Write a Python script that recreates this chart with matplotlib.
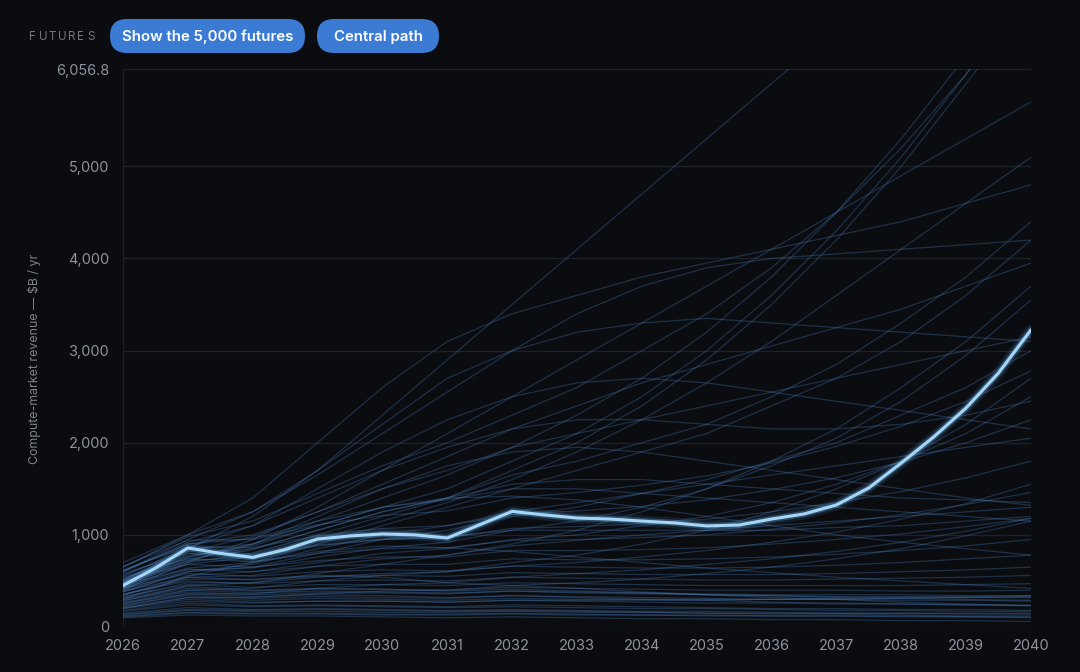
import matplotlib.pyplot as plt
from matplotlib.patches import FancyBboxPatch

plt.rcParams['font.family'] = ['Inter', 'DejaVu Sans']

# jaren pe axa x
years = list(range(2026, 2041))

# traseul central, citit la fiecare jumatate de an
central_years = [2026, 2026.5, 2027, 2027.5, 2028, 2028.5, 2029, 2029.5, 2030, 2030.5,
                 2031, 2031.5, 2032, 2032.5, 2033, 2033.5, 2034, 2034.5, 2035, 2035.5,
                 2036, 2036.5, 2037, 2037.5, 2038, 2038.5, 2039, 2039.5, 2040]
central = [450, 640, 858, 800, 755, 840, 955, 988, 1010, 1000,
           966, 1110, 1255, 1216, 1183, 1172, 1150, 1130, 1097, 1107,
           1172, 1227, 1325, 1510, 1780, 2063, 2378, 2758, 3225]

# o parte din "futures" (valori pe ani, 2026..2040)
futures = [
    [120, 160, 150, 150, 140, 140, 150, 140, 130, 130, 120, 120, 110, 110, 100],
    [150, 210, 190, 200, 190, 180, 190, 180, 170, 170, 160, 150, 150, 140, 140],
    [180, 260, 230, 240, 230, 220, 240, 230, 220, 210, 200, 200, 190, 190, 180],
    [210, 300, 270, 280, 280, 270, 290, 280, 270, 260, 260, 250, 250, 240, 240],
    [240, 340, 310, 330, 320, 310, 340, 330, 320, 310, 300, 300, 290, 290, 280],
    [270, 380, 350, 370, 370, 360, 390, 380, 370, 360, 350, 350, 350, 340, 340],
    [300, 420, 390, 410, 410, 400, 430, 420, 410, 400, 400, 400, 390, 390, 400],
    [330, 460, 430, 460, 460, 450, 480, 470, 460, 450, 450, 450, 450, 460, 470],
    [360, 500, 470, 500, 510, 500, 540, 530, 520, 510, 510, 520, 530, 540, 560],
    [390, 540, 510, 550, 560, 550, 590, 580, 570, 570, 570, 580, 600, 620, 650],
    [420, 580, 550, 600, 620, 610, 660, 650, 640, 640, 650, 670, 700, 740, 780],
    [460, 630, 600, 660, 680, 680, 740, 730, 730, 740, 760, 790, 830, 880, 950],
    [500, 680, 650, 720, 760, 760, 830, 830, 840, 860, 900, 950, 1010, 1090, 1180],
    [540, 740, 710, 800, 850, 860, 940, 950, 970, 1000, 1060, 1130, 1220, 1330, 1460],
    [580, 800, 780, 890, 950, 970, 1070, 1090, 1120, 1170, 1250, 1350, 1470, 1620, 1800],
    [620, 870, 860, 990, 1070, 1100, 1220, 1260, 1310, 1380, 1490, 1620, 1790, 2000, 2250],
    [660, 940, 950, 1110, 1210, 1260, 1400, 1460, 1540, 1640, 1780, 1960, 2180, 2450, 2780],
    [350, 520, 520, 560, 540, 480, 450, 420, 380, 350, 320, 300, 270, 250, 230],
    [420, 640, 700, 820, 880, 860, 820, 760, 700, 640, 590, 540, 500, 460, 420],
    [500, 760, 880, 1100, 1300, 1400, 1420, 1380, 1300, 1200, 1100, 1000, 920, 850, 780],
    [450, 720, 900, 1200, 1500, 1750, 1900, 1950, 1900, 1800, 1700, 1600, 1500, 1400, 1320],
    [550, 860, 1100, 1500, 1900, 2250, 2500, 2650, 2700, 2650, 2550, 2450, 2350, 2250, 2150],
    [600, 950, 1250, 1700, 2200, 2700, 3000, 3200, 3300, 3350, 3300, 3250, 3200, 3150, 3100],
    [650, 1000, 1400, 2000, 2600, 3100, 3400, 3600, 3800, 3950, 4100, 4250, 4400, 4600, 4800],
    [500, 850, 1200, 1700, 2300, 2900, 3500, 4100, 4700, 5300, 5900, 6500, 7000, 7500, 8000],
    [400, 700, 950, 1300, 1700, 2100, 2500, 2900, 3300, 3700, 4100, 4500, 4900, 5300, 5700],
    [300, 550, 700, 900, 1100, 1300, 1500, 1700, 1900, 2100, 2400, 2700, 3100, 3600, 4200],
    [450, 700, 800, 1000, 1200, 1400, 1700, 2000, 2400, 2900, 3500, 4200, 5000, 5900, 6800],
    [380, 600, 650, 800, 950, 1050, 1200, 1300, 1450, 1600, 1800, 2000, 2300, 2600, 3000],
    [520, 780, 850, 1050, 1250, 1400, 1650, 1800, 2000, 2200, 2500, 2850, 3300, 3800, 4400],
    [350, 560, 600, 700, 800, 850, 950, 1000, 1100, 1200, 1350, 1550, 1800, 2100, 2500],
    [600, 900, 1000, 1250, 1500, 1700, 1950, 2100, 2250, 2400, 2550, 2700, 2850, 3000, 3150],
    [480, 720, 760, 880, 950, 980, 1050, 1050, 1050, 1050, 1050, 1080, 1100, 1150, 1200],
    [320, 480, 480, 540, 580, 600, 660, 700, 760, 830, 920, 1030, 1170, 1340, 1550],
    [560, 840, 900, 1100, 1300, 1500, 1800, 2100, 2500, 3000, 3600, 4300, 5100, 6000, 7000],
    [400, 620, 640, 760, 860, 920, 1050, 1150, 1300, 1500, 1750, 2050, 2450, 2950, 3550],
    [250, 400, 420, 500, 560, 600, 700, 780, 900, 1050, 1250, 1500, 1800, 2200, 2700],
    [200, 320, 320, 360, 390, 400, 450, 480, 520, 580, 650, 740, 850, 990, 1150],
    [470, 740, 840, 1050, 1250, 1400, 1550, 1600, 1600, 1550, 1500, 1450, 1400, 1380, 1350],
    [600, 920, 1100, 1400, 1700, 1950, 2150, 2250, 2250, 2200, 2150, 2150, 2200, 2300, 2450],
    [430, 680, 760, 950, 1150, 1350, 1600, 1900, 2250, 2650, 3100, 3600, 4100, 4600, 5100],
    [280, 450, 480, 580, 680, 780, 900, 1050, 1250, 1500, 1800, 2150, 2600, 3100, 3700],
    [520, 820, 980, 1250, 1550, 1850, 2150, 2400, 2650, 2850, 3050, 3250, 3450, 3700, 3950],
    [380, 600, 680, 850, 1000, 1100, 1250, 1350, 1450, 1550, 1650, 1750, 1850, 1950, 2050],
    [650, 980, 1150, 1450, 1750, 2000, 2300, 2600, 3000, 3400, 3900, 4500, 5200, 6000, 6900],
    [340, 540, 560, 660, 740, 780, 880, 940, 1000, 1050, 1100, 1150, 1200, 1250, 1300],
    [230, 360, 360, 420, 460, 480, 540, 580, 620, 680, 740, 820, 920, 1040, 1180],
    [610, 900, 960, 1150, 1300, 1380, 1500, 1500, 1450, 1400, 1350, 1300, 1250, 1200, 1150],
    [700, 1000, 1250, 1650, 2100, 2550, 3000, 3400, 3700, 3900, 4000, 4050, 4100, 4150, 4200],
    [480, 760, 900, 1150, 1400, 1650, 1950, 2300, 2700, 3200, 3800, 4500, 5300, 6200, 7200],
    [100, 130, 120, 120, 110, 100, 110, 100, 90, 90, 80, 80, 70, 70, 60],
    [140, 190, 180, 190, 180, 170, 180, 170, 160, 150, 140, 140, 130, 120, 120],
    [260, 360, 330, 350, 340, 320, 340, 320, 300, 290, 270, 260, 250, 240, 230],
    [310, 440, 400, 420, 410, 390, 410, 390, 370, 350, 340, 320, 310, 300, 290],
    [200, 280, 260, 280, 280, 270, 290, 290, 290, 290, 300, 300, 310, 320, 330],
    [170, 240, 220, 230, 220, 210, 220, 210, 200, 200, 190, 180, 180, 170, 170],
    [290, 400, 370, 390, 380, 370, 390, 370, 360, 350, 340, 330, 330, 320, 320],
    [130, 180, 170, 170, 160, 160, 170, 160, 160, 150, 150, 150, 150, 150, 150],
    [220, 320, 290, 310, 300, 290, 310, 300, 300, 300, 300, 310, 320, 330, 340],
    [110, 150, 140, 140, 130, 130, 140, 130, 130, 120, 120, 120, 120, 110, 110],
]

y_ticks = [0, 1000, 2000, 3000, 4000, 5000, 6056.8]
y_labels = ['0', '1,000', '2,000', '3,000', '4,000', '5,000', '6,056.8']

bg = '#0a0c10'
fig = plt.figure(figsize=(10.8, 6.72), dpi=100, facecolor=bg)
ax = fig.add_axes([123 / 1080, 1 - 627 / 672, 908 / 1080, 558 / 672])
ax.set_facecolor(bg)

# liniile de grila
for t in y_ticks:
    ax.axhline(t, color='#1c2027', lw=1, zorder=0)
ax.axvline(2026, color='#1c2027', lw=1, zorder=0)

for f in futures:
    ax.plot(years, f, color='#4f86c6', alpha=0.3, lw=0.9, zorder=1)

# traseul central cu glow
ax.plot(central_years, central, color='#5aa7e8', lw=8, alpha=0.12,
        solid_capstyle='round', zorder=2)
ax.plot(central_years, central, color='#6fb8f0', lw=4.5, alpha=0.3,
        solid_capstyle='round', zorder=3)
ax.plot(central_years, central, color='#a6d6f6', lw=2.2,
        solid_capstyle='round', zorder=4)

ax.set_xlim(2026, 2040)
ax.set_ylim(0, 6056.8)
ax.set_xticks(years)
ax.set_xticklabels([str(y) for y in years])
ax.set_yticks(y_ticks)
ax.set_yticklabels(y_labels)
ax.tick_params(length=0, colors='#8d929b', labelsize=10.5)
ax.tick_params(axis='x', pad=9)
ax.tick_params(axis='y', pad=10)
for s in ax.spines.values():
    s.set_visible(False)
ax.set_ylabel(r'Compute-market revenue — \$B / yr', color='#7d828b', fontsize=8.9)
ax.yaxis.set_label_coords(-0.09, 0.48)

# bara de sus cu butoane, in coordonate de pixeli
top = fig.add_axes([0, 0, 1, 1], zorder=-1)
top.set_xlim(0, 1080)
top.set_ylim(672, 0)
top.axis('off')
top.patch.set_alpha(0)

for ch_i, ch in enumerate('FUTURES'):
    top.text(29 + ch_i * 9.7, 36.5, ch, color='#70757e', fontsize=8.3,
             ha='left', va='center')

buttons = [('Show the 5,000 futures', 110, 305), ('Central path', 317, 439)]
for label, x0, x1 in buttons:
    top.add_patch(FancyBboxPatch((x0, 19), x1 - x0, 34,
                                 boxstyle='round,pad=0,rounding_size=17',
                                 fc='#3b7bd4', ec='none'))
    top.text((x0 + x1) / 2, 36.5, label, color='white', fontsize=10.8,
             fontweight='semibold', ha='center', va='center')

fig.savefig('out.png', dpi=100, facecolor=bg)
